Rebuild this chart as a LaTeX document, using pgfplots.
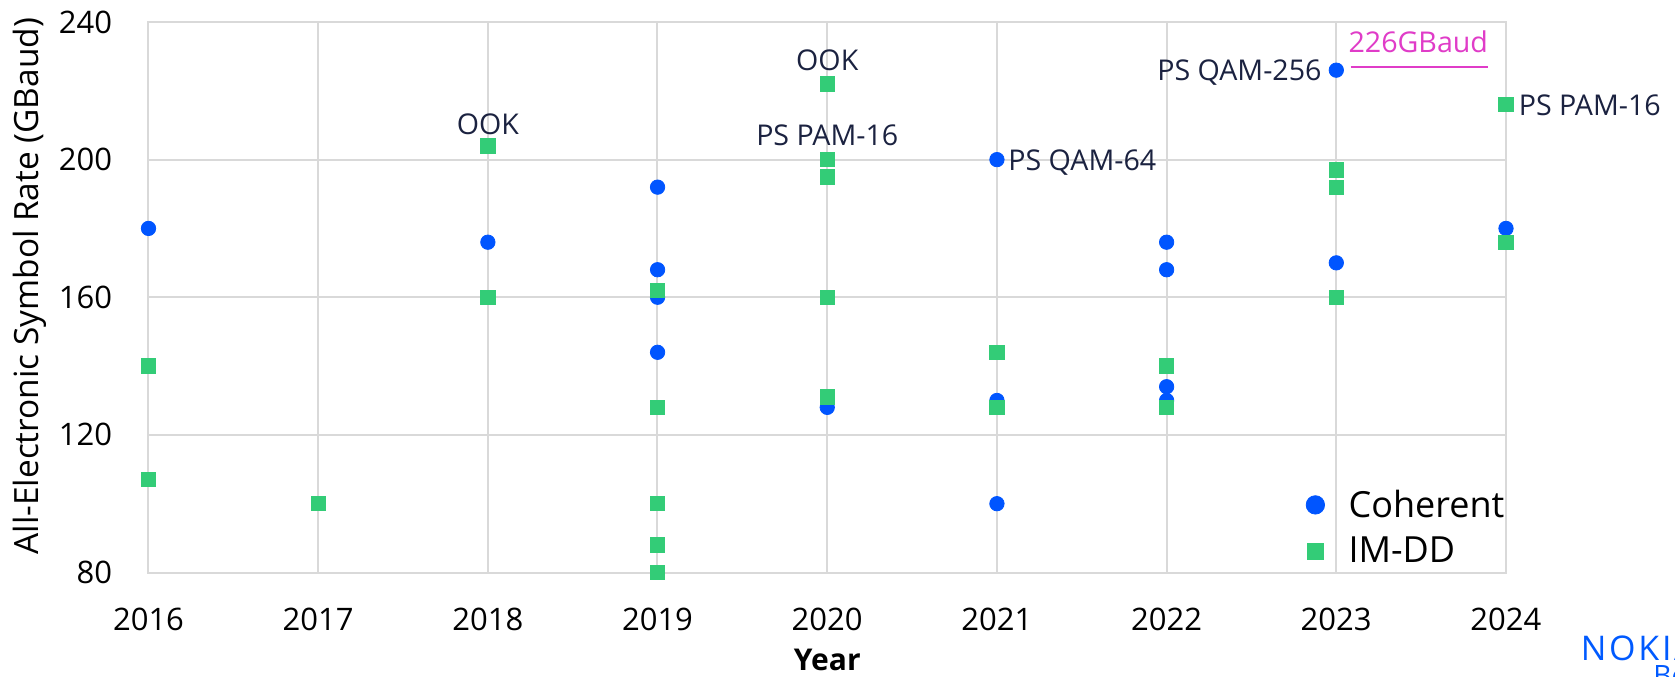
\documentclass[border=0pt]{standalone}
\usepackage{fontspec}
\setmainfont{Open Sans}
\usepackage{pgfplots}
\pgfplotsset{compat=1.18}
\usetikzlibrary{backgrounds}
\definecolor{cohblue}{HTML}{0055FF}
\definecolor{imgreen}{HTML}{33CC77}
\definecolor{gridgray}{HTML}{D9D9D9}
\definecolor{annot}{HTML}{1B2240}
\definecolor{magen}{HTML}{E03CC8}
\definecolor{nokiablue}{HTML}{005AFF}
\begin{document}
\begin{tikzpicture}
\begin{axis}[
  width=678.75pt, height=275.25pt, scale only axis,
  xmin=2016, xmax=2024, ymin=80, ymax=240,
  xtick={2016,2017,...,2024}, ytick={80,120,...,240},
  grid=major, grid style={draw=gridgray, line width=1pt},
  axis line style={draw=gridgray, line width=1pt},
  major tick length=0pt, tick style={draw=none},
  /pgf/number format/1000 sep={},
  /pgf/number format/assume math mode=true,
  ticklabel style={font=\fontsize{15.5}{18}\selectfont, text=black, inner sep=0pt},
  xticklabel style={anchor=north, yshift=-17.75pt},
  yticklabel style={anchor=east, xshift=-18pt},
  clip=false,
  legend style={draw=none, fill=none, inner sep=0pt, anchor=south west,
    at={(axis cs:2022.82,81.2)}, font=\fontsize{18}{22}\selectfont,
    column sep=11pt, row sep=6.6pt, nodes={inner sep=1pt}},
  legend cell align=left,
]
\addplot[only marks, mark=*, mark size=3.6pt, color=cohblue, mark options={draw=none}, forget plot] coordinates {
(2016,180) (2018,176) (2019,192) (2019,168) (2019,160) (2019,144)
(2020,128) (2021,200) (2021,130) (2021,100) (2022,176) (2022,168)
(2022,134) (2022,130) (2023,226) (2023,170) (2024,180)
};
\addplot[only marks, mark=square*, mark size=3.6pt, color=imgreen, mark options={draw=none}, forget plot] coordinates {
(2016,140) (2016,107) (2017,100) (2018,204) (2018,160) (2019,162)
(2019,128) (2019,100) (2019,88) (2019,80) (2020,222) (2020,200)
(2020,195) (2020,160) (2020,131) (2021,144) (2021,128) (2022,140)
(2022,128) (2023,197) (2023,192) (2023,160) (2024,216) (2024,176)
};
\addlegendimage{only marks, mark=*, mark size=4.6pt, color=cohblue, mark options={draw=none}}
\addlegendentry{Coherent}
\addlegendimage{only marks, mark=square*, mark size=4.1pt, color=imgreen, mark options={draw=none}}
\addlegendentry{IM-DD}

\begin{scope}[every node/.style={font=\fontsize{14.3}{17}\selectfont, text=annot, inner sep=0pt}]
\node[anchor=base] at (axis cs:2018,207.4) {OOK};
\node[anchor=base] at (axis cs:2020,225.8) {OOK};
\node[anchor=base] at (axis cs:2020,204.1) {PS PAM-16};
\node[anchor=base west] at ([xshift=5.5pt]axis cs:2021,196.7) {PS QAM-64};
\node[anchor=base east] at ([xshift=-7.2pt]axis cs:2023,222.9) {PS QAM-256};
\node[anchor=base west] at ([xshift=6.2pt]axis cs:2024,212.9) {PS PAM-16};
\node[anchor=base west, text=magen] at (axis cs:2023.07,231) {226GBaud};
\end{scope}
\draw[magen, line width=1pt] (axis cs:2023.084,226.8) -- (axis cs:2023.891,226.8);

\node[rotate=90, anchor=center, inner sep=0pt, font=\fontsize{16.7}{20}\selectfont]
  at ([xshift=-59.5pt]rel axis cs:0,0.52) {All-Electronic Symbol Rate (GBaud)};
\node[anchor=north, inner sep=0pt, font=\bfseries\fontsize{15}{18}\selectfont]
  at ([yshift=-38.25pt]rel axis cs:0.5,0) {Year};
\coordinate (SW) at (rel axis cs:0,0);
\coordinate (NE) at (rel axis cs:1,1);
\end{axis}
\node[anchor=north west, inner sep=0pt, text=nokiablue, font=\fontsize{17}{19}\selectfont\addfontfeatures{LetterSpace=8}]
  at ([xshift=37.25pt,yshift=-31.5pt]SW -| NE) {NOKIA};
\node[anchor=north west, inner sep=0pt, text=nokiablue, font=\fontsize{14}{16}\selectfont]
  at ([xshift=73.5pt,yshift=-45.5pt]SW -| NE) {Bell Labs};
\pgfresetboundingbox
\path[use as bounding box] ([xshift=-74.25pt,yshift=-51.75pt]SW) rectangle ([xshift=84.5pt,yshift=11pt]NE);
\begin{pgfonlayer}{background}
\fill[white] ([xshift=-74.25pt,yshift=-51.75pt]SW) rectangle ([xshift=84.5pt,yshift=11pt]NE);
\end{pgfonlayer}
\end{tikzpicture}
\end{document}
